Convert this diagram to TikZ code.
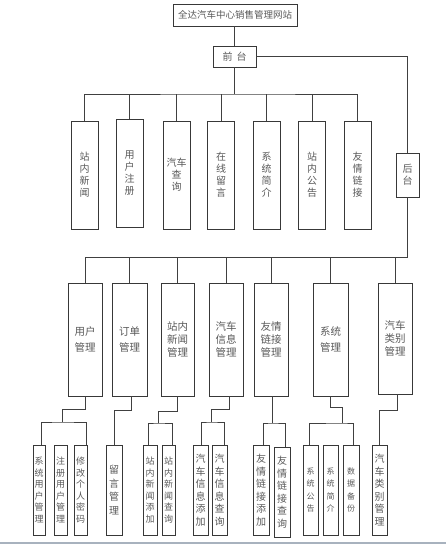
\documentclass[tikz,border=0pt]{standalone}
\usepackage{fontspec}
\newfontfamily\cjk{Noto Sans CJK SC}
\begin{document}
\begin{tikzpicture}[x=1pt,y=-1pt,
  box/.style={draw=black!78, line width=0.9pt, inner sep=0pt, align=center, text=black!65},
  ftxt/.style={font=\cjk\fontsize{10}{12}\selectfont},
  mtxt/.style={font=\cjk\fontsize{10.5}{13}\selectfont},
  wtxt/.style={font=\cjk\fontsize{10.5}{16}\selectfont},
  stxt/.style={font=\cjk\fontsize{9}{11.5}\selectfont},
  xtxt/.style={font=\cjk\fontsize{8}{12.5}\selectfont},
  fbox/.style={box, ftxt, minimum width=27pt, minimum height=108pt},
  mbox/.style={box, mtxt, minimum width=34pt, minimum height=113pt},
  sbox/.style={box, stxt, minimum height=90pt},
  conn/.style={draw=black!75, line width=0.9pt}]
\useasboundingbox (0,0) rectangle (446,545);
% top
\node[box, font=\cjk\fontsize{9.5}{11}\selectfont, minimum width=124pt, minimum height=22pt] (top) at (235,15) {全达汽车中心销售管理网站};
\node[box, ftxt, minimum width=43pt, minimum height=21pt] (qian) at (234.5,56.5) {前\hspace{4pt}台};
\node[box, ftxt, minimum width=23pt, minimum height=44pt] (hou) at (407.5,175) {后\\台};
% front
\node[fbox] (f1) at (84.5,175) {站\\内\\新\\闻};
\node[fbox] (f2) at (129.5,173) {用\\户\\注\\册};
\node[fbox] (f3) at (176.5,175) {汽车\\查\\询};
\node[fbox] (f4) at (221,175) {在\\线\\留\\言};
\node[fbox] (f5) at (266.5,175) {系\\统\\简\\介};
\node[fbox] (f6) at (312,175) {站\\内\\公\\告};
\node[fbox] (f7) at (357.5,175) {友\\情\\链\\接};
% level 2
\node[mbox, wtxt] (m1) at (85,339.5) {用户\\管理};
\node[mbox, wtxt, minimum width=35pt] (m2) at (129.5,339.5) {订单\\管理};
\node[mbox, minimum width=33pt] (m3) at (177.5,339.5) {站内\\新闻\\管理};
\node[mbox] (m4) at (226,339.5) {汽车\\信息\\管理};
\node[mbox] (m5) at (271,339.5) {友情\\链接\\管理};
\node[mbox, wtxt, minimum width=35pt] (m6) at (330.5,339.5) {系统\\管理};
\node[mbox, minimum height=111pt] (m7) at (395,338.5) {汽车\\类别\\管理};
% level 3
\node[sbox, minimum width=12pt] (s1) at (39,490) {系\\统\\用\\户\\管\\理};
\node[sbox, minimum width=13pt] (s2) at (60.5,490) {注\\册\\用\\户\\管\\理};
\node[sbox, minimum width=13pt] (s3) at (80.5,490) {修\\改\\个\\人\\密\\码};
\node[sbox, minimum width=16pt, font=\cjk\fontsize{10}{13.5}\selectfont] (l1) at (114,490) {留\\言\\管\\理};
\node[sbox, minimum width=14pt] (n1) at (150,490) {站\\内\\新\\闻\\添\\加};
\node[sbox, minimum width=13pt] (n2) at (168.5,490) {站\\内\\新\\闻\\查\\询};
\node[sbox, minimum width=15pt, font=\cjk\fontsize{10}{12.5}\selectfont] (c1) at (200.5,490) {汽\\车\\信\\息\\添\\加};
\node[sbox, minimum width=15pt, font=\cjk\fontsize{10}{12.5}\selectfont] (c2) at (219.5,490) {汽\\车\\信\\息\\查\\询};
\node[sbox, minimum width=16pt, font=\cjk\fontsize{10}{12.5}\selectfont] (y1) at (261,490) {友\\情\\链\\接\\添\\加};
\node[sbox, minimum width=16pt, font=\cjk\fontsize{10}{12.5}\selectfont] (y2) at (282,492) {友\\情\\链\\接\\查\\询};
\node[sbox, minimum width=15pt, xtxt] (x1) at (310.5,490) {系\\统\\公\\告};
\node[sbox, minimum width=15pt, xtxt] (x2) at (330.5,490) {系\\统\\简\\介};
\node[sbox, minimum width=16pt, xtxt] (x3) at (351,490) {数\\据\\备\\份};
\node[sbox, minimum width=15pt, font=\cjk\fontsize{10}{12.5}\selectfont] (z1) at (379.5,490) {汽\\车\\类\\别\\管\\理};
% upper connectors
\coordinate (fb) at (234.5,94);
\coordinate (bb) at (407.5,257);
\draw[conn] (top.south -| qian.north) -- (qian.north);
\draw[conn] (qian.south) -- (fb);
\draw[conn] (f1.north) |- (fb) -| (f7.north);
\foreach \n in {f2,f3,f4,f5,f6} \draw[conn] (\n.north) -- (\n.north |- fb);
\draw[conn] (qian.east) -| (hou.north);
\draw[conn] (hou.south) -- (bb) -| (m1.north);
\foreach \n in {m2,m3,m4,m5,m6,m7} \draw[conn] (\n.north) -- (\n.north |- bb);
% lower connectors
\coordinate (k1) at (62,409); \coordinate (j1) at (62,422);
\draw[conn] (m1.south) |- (k1) -- (j1);
\draw[conn] ([xshift=2pt]s1.north) |- (j1) -| ([xshift=5.5pt]s3.north);
\coordinate (k2) at (114,410);
\draw[conn] ([xshift=1.5pt]m2.south) |- (k2) -- (l1.north);
\coordinate (k3) at (158,411); \coordinate (j3) at (158,423);
\draw[conn] (m3.south) |- (k3) -- (j3);
\draw[conn] ([xshift=-2pt]n1.north) |- (j3) -| ([xshift=3.5pt]n2.north);
\coordinate (k4) at (211,409); \coordinate (j4) at (211,422);
\draw[conn] ([xshift=3pt]m4.south) |- (k4) -- (j4);
\draw[conn] ([xshift=0.5pt]c1.north) |- (j4) -| ([xshift=4.5pt]c2.north);
\coordinate (j5) at (272,423);
\draw[conn] ([xshift=1pt]m5.south) -- (j5);
\draw[conn] ([xshift=2pt]y1.north) |- (j5) -| ([xshift=3pt]y2.north);
\coordinate (k6) at (342,407); \coordinate (j6) at (342,423);
\draw[conn] (m6.south) |- (k6) -- (j6);
\draw[conn] ([xshift=-1.5pt]x1.north) |- (j6) -| ([xshift=2pt]x3.north);
\coordinate (k7) at (379.5,410);
\draw[conn] ([xshift=2.5pt]m7.south) |- (k7) -- (z1.north);
% bottom rule
\coordinate (r1) at (0,543); \coordinate (r2) at (446,543);
\draw[line width=1.5pt, draw={rgb,255:red,168;green,178;blue,190}] (r1) -- (r2);
\end{tikzpicture}
\end{document}
